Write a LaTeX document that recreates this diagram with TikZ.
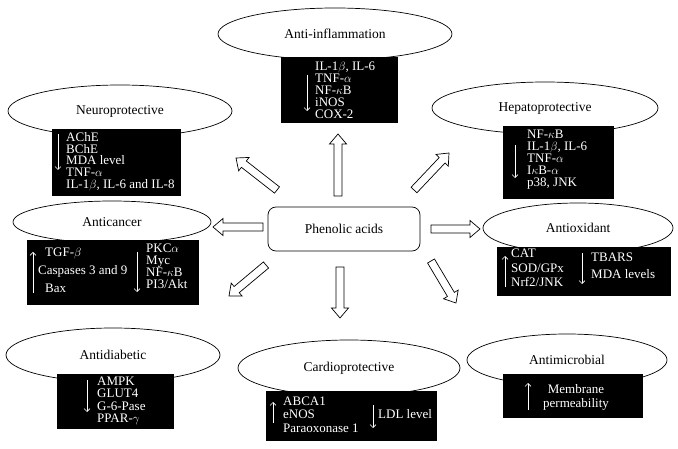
\documentclass[tikz,border=0pt]{standalone}
\usepackage{fontspec}
\setmainfont{Liberation Serif}
\usetikzlibrary{calc,shapes.geometric,arrows.meta}
\tikzset{
  effect/.style={ellipse, draw=black, line width=0.7pt, fill=white, inner sep=0pt, font=\fontsize{13.5}{14}\selectfont},
  blk/.style={rectangle, fill=black, draw=black, inner sep=0pt, anchor=north west},
  wt/.style={text=white, inner sep=0pt, anchor=base west, text height=8.3pt, text depth=2.4pt, font=\fontsize{13}{12}\selectfont},
  warr/.style={draw=white, line width=0.6pt, -{Straight Barb[length=3pt,width=6pt]}},
  hollow/.style={draw=black, fill=white, line width=0.7pt, line join=miter},
  hub/.style={rectangle, rounded corners=8pt, draw=black, line width=0.7pt, fill=white, font=\fontsize{13.5}{14}\selectfont}
}
\newcommand\boxlines[5]{%
  \foreach \t [count=\i] in {#5} {\node[wt] (#1-\i) at (#2,{#3+(\i-1)*#4}) {\t};}}
\newcommand\harrow[2]{%
  \coordinate (hb) at ($(#2)!10pt!(#1)$);
  \draw[hollow] ($(#1)!4pt!90:(#2)$) -- ($(hb)!4pt!90:(#2)$) -- ($(hb)!8.5pt!90:(#2)$) -- (#2)
     -- ($(hb)!8.5pt!-90:(#2)$) -- ($(hb)!4pt!-90:(#2)$) -- ($(#1)!4pt!-90:(#2)$) -- cycle;}
\begin{document}
\begin{tikzpicture}[x=1pt,y=-1pt]
\useasboundingbox (0,0) rectangle (678,449);

% hub
\node[hub, minimum width=152pt, minimum height=44pt] (hub) at (344,229) {Phenolic acids};

% hollow arrows
\coordinate (u0) at (338,196); \coordinate (u1) at (338,134);
\coordinate (ul0) at (277,190); \coordinate (ul1) at (236,158);
\coordinate (ur0) at (414,190); \coordinate (ur1) at (449,153);
\coordinate (l0) at (263,227); \coordinate (l1) at (213,227);
\coordinate (r0) at (431,229); \coordinate (r1) at (480,229);
\coordinate (dl0) at (266,265); \coordinate (dl1) at (229,296);
\coordinate (d0) at (340,267); \coordinate (d1) at (340,318);
\coordinate (dr0) at (431,261); \coordinate (dr1) at (456,303);
\harrow{u0}{u1}
\harrow{ul0}{ul1}
\harrow{ur0}{ur1}
\harrow{l0}{l1}
\harrow{r0}{r1}
\harrow{dl0}{dl1}
\harrow{d0}{d1}
\harrow{dr0}{dr1}

% Neuroprotective
\node[effect, minimum width=224pt, minimum height=52pt] (neu) at (120,111) {Neuroprotective};
\node[blk, minimum width=128pt, minimum height=66pt] (neub) at (52,129) {};
\boxlines{neut}{66}{141.5}{11.7}{AChE,BChE,MDA level,TNF-$\alpha$,{IL-1$\beta$, IL-6 and IL-8}}
\coordinate (neua0) at (58,134); \coordinate (neua1) at (58,170);
\draw[warr] (neua0) -- (neua1);

% Anti-inflammation
\node[effect, minimum width=234pt, minimum height=52pt] (ant) at (335,34) {Anti-inflammation};
\node[blk, minimum width=116pt, minimum height=65pt] (antb) at (281,57) {};
\boxlines{antt}{315}{71}{11.8}{{IL-1$\beta$, IL-6},TNF-$\alpha$,NF-$\kappa$B,iNOS,COX-2}
\coordinate (anta0) at (307,75); \coordinate (anta1) at (307,111);
\draw[warr] (anta0) -- (anta1);

% Hepatoprotective
\node[effect, minimum width=226pt, minimum height=52pt] (hep) at (545,108) {Hepatoprotective};
\node[blk, minimum width=110pt, minimum height=72pt] (hepb) at (503,126) {};
\boxlines{hept}{527}{139}{12}{NF-$\kappa$B,{IL-1$\beta$, IL-6},TNF-$\alpha$,I$\kappa$B-$\alpha$,{p38, JNK}}
\coordinate (hepa0) at (515,145); \coordinate (hepa1) at (515,178);
\draw[warr] (hepa0) -- (hepa1);

% Anticancer
\node[effect, minimum width=198pt, minimum height=42pt] (can) at (112,222) {Anticancer};
\node[blk, minimum width=171pt, minimum height=64pt] (canb) at (27,240) {};
\node[wt] (cant1) at (45,257) {TGF-$\beta$};
\node[wt] (cant2) at (38,275) {Caspases 3 and 9};
\node[wt] (cant3) at (45,293) {Bax};
\boxlines{canr}{146}{253}{12}{PKC$\alpha$,Myc,NF-$\kappa$B,PI3/Akt}
\coordinate (cana0) at (33,293); \coordinate (cana1) at (33,252);
\draw[warr] (cana0) -- (cana1);
\coordinate (canb0) at (137,252); \coordinate (canb1) at (137,292);
\draw[warr] (canb0) -- (canb1);

% Antioxidant
\node[effect, minimum width=190pt, minimum height=50pt] (oxi) at (578,228) {Antioxidant};
\node[blk, minimum width=173pt, minimum height=48pt] (oxib) at (497,247) {};
\boxlines{oxil}{511}{258}{14.5}{CAT,SOD/GPx,Nrf2/JNK}
\boxlines{oxir}{591}{262}{17}{TBARS,MDA levels}
\coordinate (oxia0) at (505,287); \coordinate (oxia1) at (505,256);
\draw[warr] (oxia0) -- (oxia1);
\coordinate (oxib0) at (582,253); \coordinate (oxib1) at (582,284);
\draw[warr] (oxib0) -- (oxib1);

% Antidiabetic
\node[effect, minimum width=214pt, minimum height=54pt] (dia) at (113,355) {Antidiabetic};
\node[blk, minimum width=116pt, minimum height=54pt] (diab) at (57,374) {};
\boxlines{diat}{97}{385.5}{12.3}{AMPK,GLUT4,G-6-Pase,PPAR-$\gamma$}
\coordinate (diaa0) at (87,380); \coordinate (diaa1) at (87,412);
\draw[warr] (diaa0) -- (diaa1);

% Cardioprotective
\node[effect, minimum width=222pt, minimum height=56pt] (car) at (349,368) {Cardioprotective};
\node[blk, minimum width=170pt, minimum height=49pt] (carb) at (266,391) {};
\boxlines{carl}{283}{405}{13.5}{ABCA1,eNOS,Paraoxonase 1}
\node[wt] (carr) at (378,418) {LDL level};
\coordinate (cara0) at (273,423); \coordinate (cara1) at (273,402);
\draw[warr] (cara0) -- (cara1);
\coordinate (carb0) at (373,405); \coordinate (carb1) at (373,428);
\draw[warr] (carb0) -- (carb1);

% Antimicrobial
\node[effect, minimum width=200pt, minimum height=52pt] (mic) at (567,360) {Antimicrobial};
\node[blk, minimum width=139pt, minimum height=43pt] (micb) at (503,374) {};
\node[wt, anchor=base] (mict1) at (576,393) {Membrane};
\node[wt, anchor=base] (mict2) at (576,407.5) {permeability};
\coordinate (mica0) at (528,410); \coordinate (mica1) at (528,383);
\draw[warr] (mica0) -- (mica1);
\end{tikzpicture}
\end{document}
